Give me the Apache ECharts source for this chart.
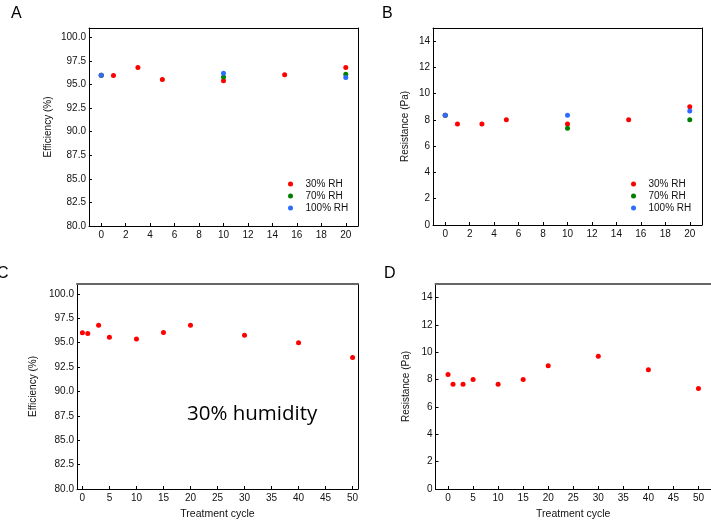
<!DOCTYPE html>
<html>
<head>
<meta charset="utf-8">
<script src="https://cdn.jsdelivr.net/npm/echarts@6/dist/echarts.min.js"></script>
<style>html,body{margin:0;padding:0;background:#fff}#c{width:711px;height:525px}</style>
</head>
<body>
<div id="c"></div>
<script>
// ---- data ----
const seriesNames = ['30% RH', '70% RH', '100% RH'];
const cycles30 = [0, 1, 3, 5, 10, 15, 20];
const cycles70 = [0, 10, 20];
const cycles100 = [0, 10, 20];
const eff30 = [96.0, 95.95, 96.8, 95.55, 95.4, 96.05, 96.8];
const eff70 = [96.0, 95.8, 96.1];
const eff100 = [96.0, 96.2, 95.75];
const res30 = [8.35, 7.69, 7.69, 8.02, 7.69, 8.02, 9.01];
const res70 = [8.35, 7.36, 8.02];
const res100 = [8.35, 8.35, 8.68];
const cyclesLong = [0, 1, 3, 5, 10, 15, 20, 30, 40, 50];
const effLong = [96.0, 95.92, 96.77, 95.54, 95.37, 96.02, 96.77, 95.75, 94.97, 93.47];
const resLong = [8.38, 7.67, 7.67, 8.01, 7.67, 8.01, 9.01, 9.71, 8.72, 7.35];
const xTicksShort = [0, 2, 4, 6, 8, 10, 12, 14, 16, 18, 20];
const xTicksLong = [0, 5, 10, 15, 20, 25, 30, 35, 40, 45, 50];
const yTicksEff = [80, 82.5, 85, 87.5, 90, 92.5, 95, 97.5, 100];
const yTicksRes = [0, 2, 4, 6, 8, 10, 12, 14];
const panelLabels = ['A', 'B', 'C', 'D'];
const annotation = '30% humidity';
const xTitle = 'Treatment cycle';
const yTitleEff = 'Efficiency (%)';
const yTitleRes = 'Resistance (Pa)';

// ---- styles ----
const colors = ['#ff0000', '#008000', '#2f6bff'];
const FONT = 'Liberation Sans, Arial, sans-serif';
const pair = (xs, ys) => xs.map((x, i) => [x, ys[i]]);

const grids = [
  {left: 89, top: 28, width: 269, height: 198},
  {left: 433, top: 28, width: 269, height: 197},
  {left: 77, top: 284, width: 281, height: 205},
  {left: 435.5, top: 284, width: 280, height: 205}
];

function xAx(gi, min, max, ticks, name) {
  return {
    type: 'value', gridIndex: gi, min: min, max: max, position: 'bottom',
    axisLine: {show: true, onZero: false, lineStyle: {color: '#000', width: 1}},
    axisTick: {show: true, inside: true, length: 3, customValues: ticks, lineStyle: {color: '#000'}},
    axisLabel: {show: true, customValues: ticks, margin: 4, fontSize: 10, color: '#111', fontFamily: FONT},
    splitLine: {show: false},
    name: name || '', nameLocation: 'middle', nameGap: 20,
    nameTextStyle: {fontSize: 10.5, color: '#111', fontFamily: FONT}
  };
}
function xTop(gi, min, max, color, width) {
  return {
    type: 'value', gridIndex: gi, min: min, max: max, position: 'top',
    axisLine: {show: true, onZero: false, lineStyle: {color: color, width: width}},
    axisTick: {show: false}, axisLabel: {show: false}, splitLine: {show: false}
  };
}
function yAx(gi, min, max, ticks, dec, name, gap) {
  return {
    type: 'value', gridIndex: gi, min: min, max: max, position: 'left',
    axisLine: {show: true, onZero: false, lineStyle: {color: '#000', width: 1}},
    axisTick: {show: true, inside: true, length: 3, customValues: ticks, lineStyle: {color: '#000'}},
    axisLabel: {show: true, customValues: ticks, margin: 3, fontSize: 10, color: '#111', fontFamily: FONT,
      formatter: v => v.toFixed(dec)},
    splitLine: {show: false},
    name: name, nameLocation: 'middle', nameGap: gap, nameRotate: 90,
    nameTextStyle: {fontSize: 10, color: '#111', fontFamily: FONT}
  };
}
function yRight(gi, min, max) {
  return {
    type: 'value', gridIndex: gi, min: min, max: max, position: 'right',
    axisLine: {show: true, onZero: false, lineStyle: {color: '#000', width: 1}},
    axisTick: {show: false}, axisLabel: {show: false}, splitLine: {show: false}
  };
}
function sc(name, xi, yi, data, color) {
  return {
    type: 'scatter', name: name, xAxisIndex: xi, yAxisIndex: yi, data: data,
    symbol: 'circle', symbolSize: 5, itemStyle: {color: color, opacity: 1}, silent: true, animation: false
  };
}

const option = {
  animation: false,
  backgroundColor: '#fff',
  grid: grids.map(g => Object.assign({containLabel: false}, g)),
  xAxis: [
    xAx(0, -1, 21, xTicksShort),
    xAx(1, -1, 21, xTicksShort),
    xAx(2, -1, 51, xTicksLong, xTitle),
    xAx(3, -2.5, 52.5, xTicksLong, xTitle),
    xTop(0, -1, 21, '#000', 1),
    xTop(1, -1, 21, '#000', 1),
    xTop(2, -1, 51, '#666', 2),
    xTop(3, -2.5, 52.5, '#666', 2)
  ],
  yAxis: [
    yAx(0, 80, 101, yTicksEff, 1, yTitleEff, 36),
    yAx(1, 0, 15, yTicksRes, 0, yTitleRes, 23),
    yAx(2, 80, 101, yTicksEff, 1, yTitleEff, 39),
    yAx(3, 0, 15, yTicksRes, 0, yTitleRes, 24),
    yRight(0, 80, 101),
    yRight(1, 0, 15),
    yRight(2, 80, 101),
    yRight(3, 0, 15)
  ],
  legend: [
    {data: seriesNames, orient: 'vertical', left: 283, top: 173, itemWidth: 20, itemHeight: 5, itemGap: 0,
     icon: 'circle', selectedMode: false, itemStyle: {opacity: 1},
     textStyle: {fontSize: 10, lineHeight: 12, color: '#111', fontFamily: FONT}},
    {data: seriesNames, orient: 'vertical', left: 626, top: 173, itemWidth: 20, itemHeight: 5, itemGap: 0,
     icon: 'circle', selectedMode: false, itemStyle: {opacity: 1},
     textStyle: {fontSize: 10, lineHeight: 12, color: '#111', fontFamily: FONT}}
  ],
  series: [
    sc(seriesNames[0], 0, 0, pair(cycles30, eff30), colors[0]),
    sc(seriesNames[1], 0, 0, pair(cycles70, eff70), colors[1]),
    sc(seriesNames[2], 0, 0, pair(cycles100, eff100), colors[2]),
    sc(seriesNames[0], 1, 1, pair(cycles30, res30), colors[0]),
    sc(seriesNames[1], 1, 1, pair(cycles70, res70), colors[1]),
    sc(seriesNames[2], 1, 1, pair(cycles100, res100), colors[2]),
    sc('C', 2, 2, pair(cyclesLong, effLong), colors[0]),
    sc('D', 3, 3, pair(cyclesLong, resLong), colors[0])
  ],
  graphic: [
    {type: 'text', left: 11, top: 6, style: {text: panelLabels[0], fontSize: 16, fill: '#000', fontFamily: FONT}},
    {type: 'text', left: 382, top: 6, style: {text: panelLabels[1], fontSize: 16, fill: '#000', fontFamily: FONT}},
    {type: 'text', left: -3, top: 266, style: {text: panelLabels[2], fontSize: 16, fill: '#000', fontFamily: FONT}},
    {type: 'text', left: 384, top: 266, style: {text: panelLabels[3], fontSize: 16, fill: '#000', fontFamily: FONT}},
    {type: 'text', left: 187, top: 404, style: {text: annotation, fontSize: 20.5, fill: '#000', fontFamily: 'Open Sans, sans-serif'}}
  ]
};

const chart = echarts.init(document.getElementById('c'), null, {renderer: 'canvas'});
chart.setOption(option);
</script>
</body>
</html>
